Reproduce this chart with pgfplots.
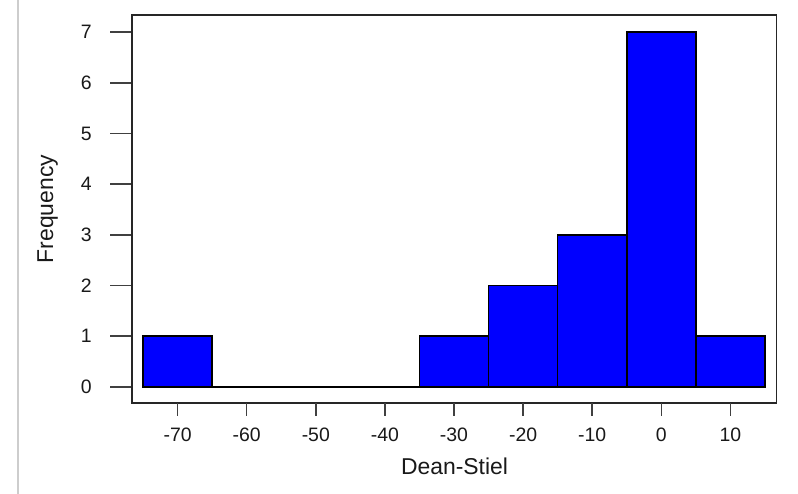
\documentclass[border=0pt]{standalone}
\usepackage{fontspec}
\setmainfont{Liberation Sans}
\usepackage{pgfplots}
\pgfplotsset{compat=1.18}
\definecolor{rblue}{RGB}{0,0,255}
\definecolor{pagegray}{RGB}{205,205,205}
\begin{document}
\begin{tikzpicture}[x=1bp,y=1bp]
\useasboundingbox (0,0) rectangle (798,494);
\fill[white] (0,0) rectangle (798,494);
\draw[color=pagegray, line width=1.2bp] (18,0) -- (18,494);
% main axis: box, y ticks, bars
\begin{axis}[
  at={(132bp,91bp)}, anchor=south west, scale only axis,
  width=644.7bp, height=388bp,
  xmin=-76.6, xmax=16.7, ymin=-0.32, ymax=7.34,
  ytick={0,1,2,3,4,5,6,7}, xtick=\empty,
  ytick pos=left,
  tick align=outside, major tick length=22bp,
  axis line style={line width=1.5bp, color=black!85},
  tick style={line width=1.5bp, color=black!75},
  /pgf/number format/assume math mode=true,
  yticklabel style={font=\fontsize{19.5}{23}\selectfont, inner sep=0pt, anchor=east, color=black!90},
  ticklabel shift=18bp,
]
\addplot[ybar interval, fill=rblue, draw=black, line width=1.5bp]
  coordinates {(-75,1) (-65,0) (-55,0) (-45,0) (-35,1) (-25,2) (-15,3) (-5,7) (5,1) (15,1)};
\end{axis}
% second axis: x ticks only
\begin{axis}[
  at={(132bp,91bp)}, anchor=south west, scale only axis,
  width=644.7bp, height=388bp,
  xmin=-76.6, xmax=16.7, ymin=-0.32, ymax=7.34,
  hide y axis,
  x axis line style={draw=none},
  xtick={-70,-60,-50,-40,-30,-20,-10,0,10},
  xticklabels={-70,-60,-50,-40,-30,-20,-10,0,10},
  xtick pos=bottom,
  tick align=outside, major tick length=13bp,
  tick style={line width=1.5bp, color=black!75},
  xticklabel style={font=\fontsize{19.5}{23}\selectfont, inner sep=0pt, anchor=north, color=black!90},
  ticklabel shift=12bp,
]
\addplot[draw=none] coordinates {(0,0)};
\end{axis}
\node[font=\fontsize{23}{27}\selectfont, anchor=base, color=black!90] at (454.5,19) {Dean-Stiel};
\node[font=\fontsize{23}{27}\selectfont, anchor=base, rotate=90, color=black!90] at (53,285) {Frequency};
\end{tikzpicture}
\end{document}
